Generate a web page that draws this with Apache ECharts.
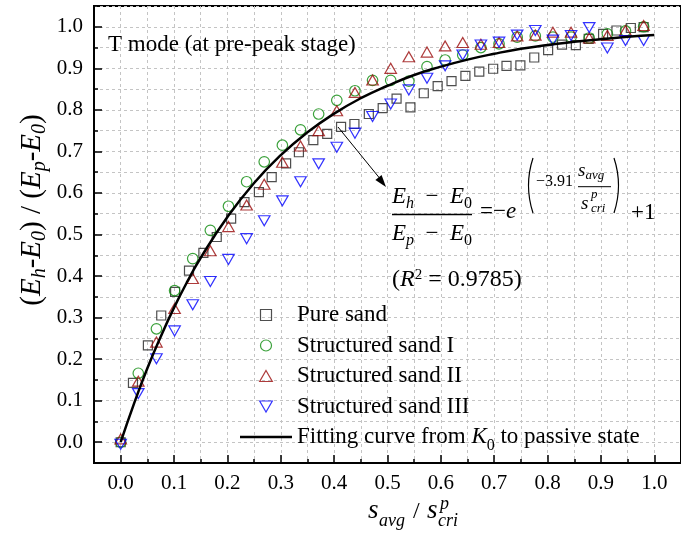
<!DOCTYPE html>
<html><head><meta charset="utf-8">
<script src="https://cdn.jsdelivr.net/npm/echarts@6/dist/echarts.min.js"></script>
<style>html,body{margin:0;padding:0;background:#fff}#c{width:681px;height:536px}</style>
</head><body><div id="c"></div>
<script>
// ---- data ----
const pureX = [0, 0.023, 0.051, 0.076, 0.102, 0.128, 0.155, 0.180, 0.207, 0.232, 0.259, 0.283, 0.310, 0.334, 0.361, 0.387, 0.413, 0.438, 0.465, 0.491, 0.517, 0.543, 0.568, 0.594, 0.620, 0.646, 0.672, 0.698, 0.723, 0.749, 0.775, 0.801, 0.827, 0.853, 0.877, 0.904, 0.929, 0.956, 0.980];
const pureY = [0, 0.143, 0.233, 0.305, 0.362, 0.413, 0.456, 0.494, 0.538, 0.578, 0.602, 0.638, 0.671, 0.698, 0.727, 0.742, 0.759, 0.766, 0.790, 0.804, 0.827, 0.806, 0.840, 0.857, 0.869, 0.882, 0.892, 0.899, 0.906, 0.907, 0.926, 0.944, 0.957, 0.956, 0.971, 0.983, 0.991, 0.997, 0.999];
const structX = [0, 0.033, 0.067, 0.101, 0.135, 0.168, 0.202, 0.236, 0.269, 0.303, 0.337, 0.371, 0.405, 0.439, 0.472, 0.506, 0.540, 0.574, 0.608, 0.641, 0.675, 0.709, 0.743, 0.777, 0.810, 0.844, 0.878, 0.912, 0.946, 0.980];
const sand1Y = [0, 0.166, 0.273, 0.365, 0.442, 0.510, 0.568, 0.627, 0.675, 0.715, 0.752, 0.790, 0.823, 0.846, 0.871, 0.871, 0.869, 0.904, 0.920, 0.932, 0.950, 0.959, 0.975, 0.978, 0.975, 0.975, 0.973, 0.983, 0.990, 1.000];
const sand2Y = [0.008, 0.147, 0.241, 0.322, 0.394, 0.461, 0.519, 0.571, 0.621, 0.674, 0.713, 0.750, 0.798, 0.842, 0.872, 0.900, 0.928, 0.939, 0.954, 0.962, 0.958, 0.962, 0.978, 0.980, 0.987, 0.987, 0.973, 0.979, 0.991, 1.003];
const sand3Y = [-0.005, 0.117, 0.201, 0.268, 0.331, 0.387, 0.440, 0.490, 0.533, 0.581, 0.627, 0.670, 0.710, 0.744, 0.784, 0.814, 0.848, 0.876, 0.906, 0.932, 0.956, 0.963, 0.980, 0.991, 0.968, 0.979, 0.998, 0.949, 0.967, 0.967];
const fitX = [0, 0.025, 0.05, 0.075, 0.1, 0.125, 0.15, 0.2, 0.25, 0.3, 0.35, 0.4, 0.45, 0.5, 0.55, 0.6, 0.65, 0.7, 0.75, 0.8, 0.85, 0.9, 0.95, 1.0];
const fitY = [0, 0.093, 0.178, 0.254, 0.324, 0.387, 0.444, 0.542, 0.624, 0.691, 0.746, 0.791, 0.828, 0.858, 0.884, 0.904, 0.921, 0.935, 0.947, 0.956, 0.964, 0.970, 0.976, 0.980];
const seriesNames = ['Pure sand', 'Structured sand I', 'Structured sand II', 'Structured sand III', 'Fitting curve from K0 to passive state'];

const F = "'Liberation Serif','Times New Roman',serif";
function zip(xs, ys) { return xs.map((x, i) => [x, ys[i]]); }
function rich(fs, lh, sfs, slh) {
  return {
    n: {fontFamily: F, fontSize: fs, lineHeight: lh},
    i: {fontFamily: F, fontSize: fs, lineHeight: lh, fontStyle: 'italic'},
    s: {fontFamily: F, fontSize: sfs, lineHeight: slh, fontStyle: 'italic', verticalAlign: 'bottom'},
    s0: {fontFamily: F, fontSize: sfs, lineHeight: slh, verticalAlign: 'bottom'},
    u: {fontFamily: F, fontSize: sfs, lineHeight: slh, verticalAlign: 'top'}
  };
}
function T(x, ym, text, fs, opt) {
  opt = opt || {};
  const st = {x: x, y: ym, text: text, fontFamily: F, fontSize: fs, fontStyle: opt.it ? 'italic' : 'normal',
    fill: '#000', align: opt.al || 'left', verticalAlign: 'middle'};
  if (opt.rich) st.rich = opt.rich;
  return {type: 'text', z: 100, silent: true, style: st};
}
function L(x1, y1, x2, y2, w) {
  return {type: 'line', z: 100, silent: true, shape: {x1, y1, x2, y2}, style: {stroke: '#000', lineWidth: w || 1}};
}

const sq = 'path://M0,0H10V10H0Z';
const tri = 'path://M5,0L10,8.7L0,8.7Z';
const itri = 'path://M0,0L10,0L5,8.7Z';

const chart = echarts.init(document.getElementById('c'));
const mk = (name, data, symbol, size, color) => ({
  name, type: 'scatter', data, symbol, symbolSize: size, z: 3,
  itemStyle: {color: 'rgba(0,0,0,0)', borderColor: color, borderWidth: 1.2}
});

const graphics = [
  T(108, 45, 'T mode (at pre-peak stage)', 23),
  T(432, 197, '{i|E}{s|h}{n|  −  }{i|E}{s0|0}', 23, {al: 'center', rich: rich(23, 30, 16, 14)}),
  L(392, 214.5, 472, 214.5, 1.3),
  T(432, 234, '{i|E}{s|p}{n|  −  }{i|E}{s0|0}', 23, {al: 'center', rich: rich(23, 30, 16, 14)}),
  T(480, 212, '{n|=−}{i|e}', 23, {rich: rich(23, 30, 16, 14)}),
  {type: 'bezierCurve', z: 100, silent: true, shape: {x1: 533, y1: 158, x2: 533, y2: 213, cpx1: 524, cpy1: 185.5}, style: {stroke: '#000', lineWidth: 1.2, fill: null}},
  {type: 'bezierCurve', z: 100, silent: true, shape: {x1: 614, y1: 158, x2: 614, y2: 213, cpx1: 623, cpy1: 185.5}, style: {stroke: '#000', lineWidth: 1.2, fill: null}},
  T(536, 181.5, '−3.91', 16),
  T(578, 171, '{i|s}{s|avg}', 19, {rich: rich(19, 22, 13, 11)}),
  L(578, 186.7, 611, 186.7, 1),
  T(581, 203.5, 's', 19, {it: true}),
  T(591, 194.5, 'p', 13, {it: true}),
  T(591, 208.6, 'cri', 13, {it: true}),
  T(631, 213.2, '+1', 23),
  T(392, 280, '{n|(}{i|R}{u|2}{n| = 0.9785)}', 24, {rich: rich(24, 25, 15, 14)}),
  L(338, 127, 381.5, 180.5, 1),
  {type: 'polygon', z: 100, silent: true, shape: {points: [[386, 187], [375.4, 180.1], [381.6, 175.1]]}, style: {fill: '#000'}},
  // x axis title
  T(368, 510.8, 's', 27, {it: true}),
  T(379, 520.9, 'avg', 18, {it: true}),
  T(413, 511.8, '/', 24),
  T(427, 510.8, 's', 27, {it: true}),
  T(440, 503.9, 'p', 18, {it: true}),
  T(438, 520.9, 'cri', 18, {it: true}),
  // y axis title (rotated)
  {type: 'text', z: 100, silent: true, x: 32, y: 210, rotation: Math.PI / 2,
   style: {x: 0, y: 0, text: '{n|(}{i|E}{s|h}{n|-}{i|E}{s|0}{n|) / (}{i|E}{s|p}{n|-}{i|E}{s|0}{n|)}',
     align: 'center', verticalAlign: 'middle', fill: '#000', rich: rich(29, 36, 20, 18)}}
];

const axisCommon = (isX) => ([
  {type: 'value', min: -0.05, max: 1.05, splitNumber: 11, position: isX ? 'bottom' : 'left',
   axisLine: {show: true, onZero: false, lineStyle: {color: '#000', width: 2}},
   axisTick: {show: true, inside: true, length: 8, lineStyle: {color: '#000', width: 1.5}},
   axisLabel: {showMinLabel: false, showMaxLabel: false, margin: isX ? 10 : 11, fontFamily: F, fontSize: 21, color: '#000',
     formatter: v => v.toFixed(1)},
   splitLine: {show: false}},
  {type: 'value', min: -0.05, max: 1.05, interval: 0.05, position: isX ? 'bottom' : 'left',
   axisLine: {show: false, onZero: false},
   axisTick: {show: true, inside: true, length: 4, lineStyle: {color: '#000', width: 1.5}},
   axisLabel: {show: false},
   splitLine: {show: true, lineStyle: {color: '#c4c4c4', type: [3, 3], width: 1}}}
]);

chart.setOption({
  animation: false,
  backgroundColor: '#fff',
  textStyle: {fontFamily: F},
  grid: {left: 94, top: 6, width: 593, height: 457, show: true, borderColor: '#000', borderWidth: 2, backgroundColor: 'transparent'},
  xAxis: axisCommon(true),
  yAxis: axisCommon(false),
  legend: {
    orient: 'vertical', left: 240, top: 298, padding: 0,
    itemWidth: 52, itemHeight: 11, itemGap: -3.5, symbolKeepAspect: true,
    itemStyle: {borderWidth: 1.2},
    data: [seriesNames[0], seriesNames[1], seriesNames[2], seriesNames[3],
      {name: seriesNames[4], icon: 'path://M0,0H52V2.5H0Z', itemStyle: {borderWidth: 0, color: '#000'}}],
    textStyle: {fontFamily: F, fontSize: 23, color: '#000', lineHeight: 34,
      rich: {n: {fontFamily: F, fontSize: 23, lineHeight: 34}, i: {fontFamily: F, fontSize: 23, lineHeight: 34, fontStyle: 'italic'},
             s: {fontFamily: F, fontSize: 16, lineHeight: 12, verticalAlign: 'bottom'}}},
    formatter: name => name === seriesNames[4] ? '{n|Fitting curve from }{i|K}{s|0}{n| to passive state}' : name
  },
  series: [
    mk(seriesNames[0], zip(pureX, pureY), sq, 9, '#222222'),
    mk(seriesNames[1], zip(structX, sand1Y), 'circle', 10.5, '#0a8a0a'),
    mk(seriesNames[2], zip(structX, sand2Y), tri, [11.5, 10], '#9a0a0a'),
    mk(seriesNames[3], zip(structX, sand3Y), itri, [11.5, 10], '#0000ff'),
    {name: seriesNames[4], type: 'line', data: zip(fitX, fitY), smooth: true, symbol: 'none', z: 5,
     lineStyle: {color: '#000', width: 2.5}, itemStyle: {color: '#000'}}
  ],
  graphic: {elements: graphics}
});
</script>
</body></html>
